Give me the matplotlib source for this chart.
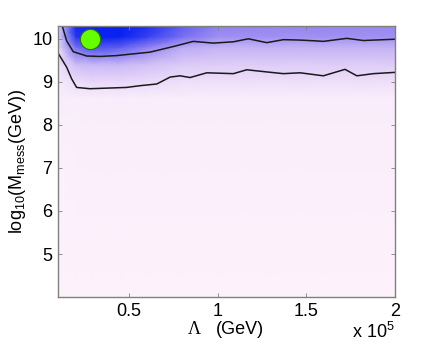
import matplotlib

matplotlib.use("Agg")
import matplotlib.pyplot as plt
import numpy as np
from matplotlib.colors import LinearSegmentedColormap

plt.rcParams["font.family"] = ["Liberation Sans", "DejaVu Sans"]
plt.rcParams["mathtext.fontset"] = "custom"
plt.rcParams["mathtext.rm"] = "Liberation Sans"
plt.rcParams["mathtext.it"] = "Liberation Sans:italic"

# grid of the likelihood density (Lambda in units of 1e5 GeV, log10 M_mess)
LAM_NODES = [0.1, 0.2, 0.3, 0.45, 0.6, 0.8, 1.0, 1.3, 1.6, 2.0]
LOGM_NODES = [4.0, 8.6, 9.0, 9.4, 9.8, 10.05, 10.3]
DENSITY = [
    [0.00, 0.00, 0.00, 0.00, 0.00, 0.00, 0.00, 0.00, 0.00, 0.00],
    [0.04, 0.05, 0.05, 0.05, 0.05, 0.05, 0.05, 0.05, 0.05, 0.05],
    [0.08, 0.20, 0.24, 0.24, 0.22, 0.18, 0.18, 0.18, 0.18, 0.18],
    [0.15, 0.42, 0.45, 0.45, 0.40, 0.34, 0.33, 0.33, 0.33, 0.33],
    [0.22, 0.74, 0.84, 0.80, 0.68, 0.52, 0.48, 0.48, 0.48, 0.48],
    [0.28, 0.93, 1.00, 1.00, 0.90, 0.74, 0.62, 0.62, 0.62, 0.62],
    [0.32, 0.97, 1.00, 1.00, 0.95, 0.80, 0.68, 0.66, 0.66, 0.65],
]

# 68% and 95% contours
UPPER_LAM = [0.124, 0.149, 0.186, 0.262, 0.337, 0.431, 0.525, 0.619, 0.75, 0.863,
             0.976, 1.089, 1.173, 1.277, 1.371, 1.465, 1.559, 1.596, 1.728, 1.822, 2.0]
UPPER_LOGM = [10.3, 9.95, 9.70, 9.60, 9.59, 9.61, 9.65, 9.69, 9.82, 9.94,
              9.90, 9.93, 10.00, 9.91, 9.98, 9.97, 9.95, 9.94, 10.01, 9.96, 9.99]
LOWER_LAM = [0.1, 0.149, 0.177, 0.205, 0.28, 0.487, 0.562, 0.657, 0.732, 0.788, 0.845,
             0.939, 1.089, 1.164, 1.277, 1.371, 1.465, 1.596, 1.718, 1.785, 1.878, 2.0]
LOWER_LOGM = [9.67, 9.34, 9.07, 8.87, 8.84, 8.87, 8.91, 8.95, 9.11, 9.14, 9.10,
              9.21, 9.19, 9.28, 9.23, 9.19, 9.21, 9.14, 9.29, 9.14, 9.19, 9.22]

BEST_LAM = 0.282
BEST_LOGM = 10.0

cmap = LinearSegmentedColormap.from_list(
    "pinkblue",
    [(0.0, "#fdf2fb"), (0.3, "#e4d2f8"), (0.5, "#c0aef4"), (0.7, "#8a7cf0"), (1.0, "#0a22f0")],
)

fig = plt.figure(figsize=(4.36, 3.45), dpi=100)
ax = fig.add_axes([0.133, 0.139, 0.773, 0.786])

ax.pcolormesh(LAM_NODES, LOGM_NODES, np.array(DENSITY), cmap=cmap, vmin=0, vmax=1,
              shading="gouraud", rasterized=True)
ax.plot(UPPER_LAM, UPPER_LOGM, color="#1a1a1a", linewidth=1.1)
ax.plot(LOWER_LAM, LOWER_LOGM, color="#1a1a1a", linewidth=1.1)
ax.plot([BEST_LAM], [BEST_LOGM], "o", markersize=14.5, markerfacecolor="#66ff00",
        markeredgecolor="#2a7a00", markeredgewidth=0.8)

ax.set_xlim(0.1, 2.0)
ax.set_ylim(4.0, 10.3)
ax.set_xticks([0.5, 1, 1.5, 2])
ax.set_xticklabels(["0.5", "1", "1.5", "2"])
ax.set_yticks([5, 6, 7, 8, 9, 10])
ax.tick_params(direction="in", length=3, width=0.6, color="#808080",
               top=True, right=True, labelsize=13, pad=4)
for sp in ax.spines.values():
    sp.set_color("#808080")
    sp.set_linewidth(1.0)

ax.set_ylabel(r"log$_{10}$(M$_{\rm mess}$(GeV))", fontsize=13, labelpad=3)
fig.text(194 / 436, 1 - 329 / 345, "\u039b", fontsize=13, family="Liberation Serif",
         ha="center", va="center")
fig.text(240 / 436, 1 - 329 / 345, "(GeV)", fontsize=13, ha="center", va="center")
fig.text(0.906, 0.008, r"x 10$^5$", fontsize=13, ha="right", va="bottom")

fig.savefig("out.png", dpi=100)
